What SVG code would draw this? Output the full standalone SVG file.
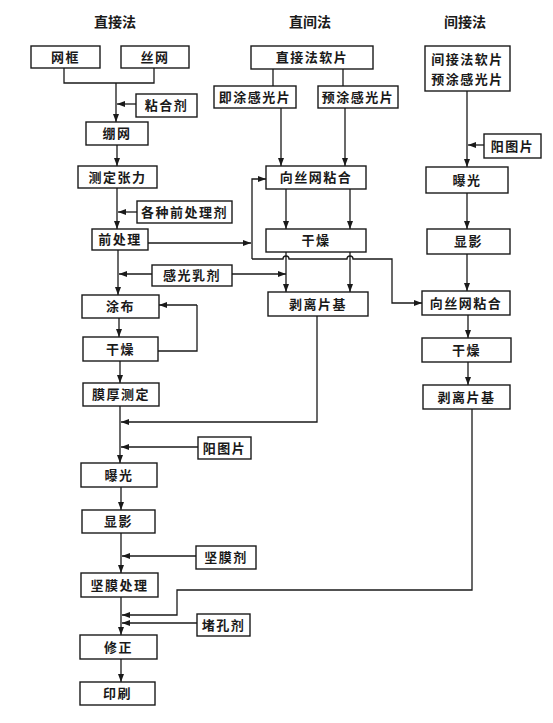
<svg xmlns="http://www.w3.org/2000/svg" width="553" height="723" viewBox="0 0 553 723">
<style>
.box{fill:#fff;stroke:#1a1a1a;stroke-width:1.4}
.t{font-family:"Noto Sans CJK SC","Noto Sans CJK JP",sans-serif;font-size:13px;font-weight:bold;fill:#1a1a1a;text-anchor:middle;letter-spacing:1.5px}
.title{font-family:"Noto Sans CJK SC","Noto Sans CJK JP",sans-serif;font-size:14px;font-weight:bold;fill:#1a1a1a;text-anchor:middle}
.c{fill:none;stroke:#1a1a1a;stroke-width:1.3}
.a{marker-end:url(#arr)}
</style>
<defs>
<marker id="arr" markerUnits="userSpaceOnUse" markerWidth="9" markerHeight="7" refX="8" refY="3.5" orient="auto">
<path d="M0,0.5 L8,3.5 L0,6.5 z" fill="#1a1a1a"/>
</marker>
</defs>
<rect width="553" height="723" fill="#fff"/>
<g id="titles">
<text class="title" x="115" y="27">直接法</text>
<text class="title" x="310" y="27">直间法</text>
<text class="title" x="465" y="27">间接法</text>
</g>
<g id="connectors">
<path class="c" d="M64,68 V83 H154 V68"/>
<path class="c a" d="M116,83 V122"/>
<path class="c a" d="M136,104 H117"/>
<path class="c a" d="M117,145 V166"/>
<path class="c a" d="M137,212 H118"/>
<path class="c a" d="M117,188 V229"/>
<path class="c a" d="M118,250 V295"/>
<path class="c a" d="M152,274 H119"/>
<path class="c a" d="M232,274 H286"/>
<path class="c a" d="M148,243 H251"/>
<path class="c a" d="M252,259 V179 H266"/>
<path class="c a" d="M252,259 H283 a3,3 0 0 1 6,0 H347 a3,3 0 0 1 6,0 H392 V303 H422"/>
<path class="c a" d="M197,305 H159"/>
<path class="c" d="M158,351 H197 V305"/>
<path class="c a" d="M119,318 V337"/>
<path class="c a" d="M120,361 V383"/>
<path class="c a" d="M120,406 V463"/>
<path class="c a" d="M317,316 V422 H121"/>
<path class="c a" d="M198,447 H121"/>
<path class="c a" d="M121,487 V510"/>
<path class="c a" d="M121,533 V573"/>
<path class="c a" d="M196,556 H122"/>
<path class="c a" d="M121,597 V635"/>
<path class="c a" d="M472,409 V590 H177 V615 H122"/>
<path class="c a" d="M197,623 H122"/>
<path class="c a" d="M121,659 V682"/>
<path class="c" d="M273,69 V86"/>
<path class="c" d="M343,69 V86"/>
<path class="c a" d="M281,108 V166"/>
<path class="c a" d="M345,108 V166"/>
<path class="c a" d="M286,189 V229"/>
<path class="c a" d="M350,189 V229"/>
<path class="c a" d="M286,252 V292"/>
<path class="c a" d="M350,252 V292"/>
<path class="c a" d="M467,91 V167"/>
<path class="c a" d="M484,145 H468"/>
<path class="c a" d="M467,193 V229"/>
<path class="c a" d="M467,254 V291"/>
<path class="c a" d="M468,315 V338"/>
<path class="c a" d="M468,362 V385"/>
</g>
<g id="n_wangkuang"><rect class="box" x="31" y="46" width="69" height="22"/><text class="t" x="65.5" y="61.5">网框</text></g>
<g id="n_siwang"><rect class="box" x="121" y="46" width="68" height="22"/><text class="t" x="155" y="61.5">丝网</text></g>
<g id="n_nianheji"><rect class="box" x="136" y="94" width="61" height="23"/><text class="t" x="166.5" y="110">粘合剂</text></g>
<g id="n_bengwang"><rect class="box" x="86" y="122" width="62" height="23"/><text class="t" x="117" y="138">绷网</text></g>
<g id="n_cedingzhangli"><rect class="box" x="78" y="166" width="79" height="22"/><text class="t" x="117.5" y="181.5">测定张力</text></g>
<g id="n_qianchuliji"><rect class="box" x="137" y="201" width="95" height="22"/><text class="t" x="184.5" y="216.5">各种前处理剂</text></g>
<g id="n_qianchuli"><rect class="box" x="92" y="229" width="56" height="21"/><text class="t" x="120" y="244">前处理</text></g>
<g id="n_ganguangruji"><rect class="box" x="152" y="265" width="80" height="21"/><text class="t" x="192" y="280">感光乳剂</text></g>
<g id="n_tubu"><rect class="box" x="82" y="295" width="77" height="23"/><text class="t" x="120.5" y="311">涂布</text></g>
<g id="n_ganzao_l"><rect class="box" x="83" y="337" width="75" height="24"/><text class="t" x="120.5" y="353.5">干燥</text></g>
<g id="n_mohoucd"><rect class="box" x="83" y="383" width="76" height="23"/><text class="t" x="121" y="399">膜厚测定</text></g>
<g id="n_yangtupian_l"><rect class="box" x="198" y="437" width="53" height="22"/><text class="t" x="224.5" y="452.5">阳图片</text></g>
<g id="n_baoguang_l"><rect class="box" x="81" y="463" width="76" height="24"/><text class="t" x="119" y="479.5">曝光</text></g>
<g id="n_xianying_l"><rect class="box" x="82" y="510" width="73" height="23"/><text class="t" x="118.5" y="526">显影</text></g>
<g id="n_jianmoji"><rect class="box" x="196" y="546" width="60" height="23"/><text class="t" x="226" y="562">坚膜剂</text></g>
<g id="n_jianmochuli"><rect class="box" x="81" y="573" width="77" height="24"/><text class="t" x="119.5" y="589.5">坚膜处理</text></g>
<g id="n_dukongji"><rect class="box" x="197" y="614" width="53" height="22"/><text class="t" x="223.5" y="629.5">堵孔剂</text></g>
<g id="n_xiuzheng"><rect class="box" x="80" y="635" width="77" height="24"/><text class="t" x="118.5" y="651.5">修正</text></g>
<g id="n_yinshua"><rect class="box" x="80" y="682" width="75" height="23"/><text class="t" x="117.5" y="698">印刷</text></g>
<g id="n_zhijiefaruanpian"><rect class="box" x="251" y="46" width="122" height="23"/><text class="t" x="312" y="62">直接法软片</text></g>
<g id="n_jitu"><rect class="box" x="214" y="86" width="82" height="22"/><text class="t" x="255" y="101.5">即涂感光片</text></g>
<g id="n_yutu"><rect class="box" x="318" y="86" width="80" height="22"/><text class="t" x="358" y="101.5">预涂感光片</text></g>
<g id="n_xiangsiwang_m"><rect class="box" x="266" y="166" width="100" height="23"/><text class="t" x="316" y="182">向丝网粘合</text></g>
<g id="n_ganzao_m"><rect class="box" x="266" y="229" width="100" height="23"/><text class="t" x="316" y="245">干燥</text></g>
<g id="n_boli_m"><rect class="box" x="268" y="292" width="100" height="24"/><text class="t" x="318" y="308.5">剥离片基</text></g>
<g id="n_jianjiefaruanpian"><rect class="box" x="425" y="46" width="85" height="45"/><text class="t" x="467.5" y="64">间接法软片</text><text class="t" x="467.5" y="84">预涂感光片</text></g>
<g id="n_yangtupian_r"><rect class="box" x="484" y="134" width="57" height="24"/><text class="t" x="512.5" y="150.5">阳图片</text></g>
<g id="n_baoguang_r"><rect class="box" x="426" y="167" width="82" height="26"/><text class="t" x="467" y="184.5">曝光</text></g>
<g id="n_xianying_r"><rect class="box" x="427" y="229" width="83" height="25"/><text class="t" x="468.5" y="246">显影</text></g>
<g id="n_xiangsiwang_r"><rect class="box" x="422" y="291" width="88" height="24"/><text class="t" x="466" y="307.5">向丝网粘合</text></g>
<g id="n_ganzao_r"><rect class="box" x="422" y="338" width="89" height="24"/><text class="t" x="466.5" y="354.5">干燥</text></g>
<g id="n_boli_r"><rect class="box" x="423" y="385" width="87" height="24"/><text class="t" x="466.5" y="401.5">剥离片基</text></g>
</svg>
